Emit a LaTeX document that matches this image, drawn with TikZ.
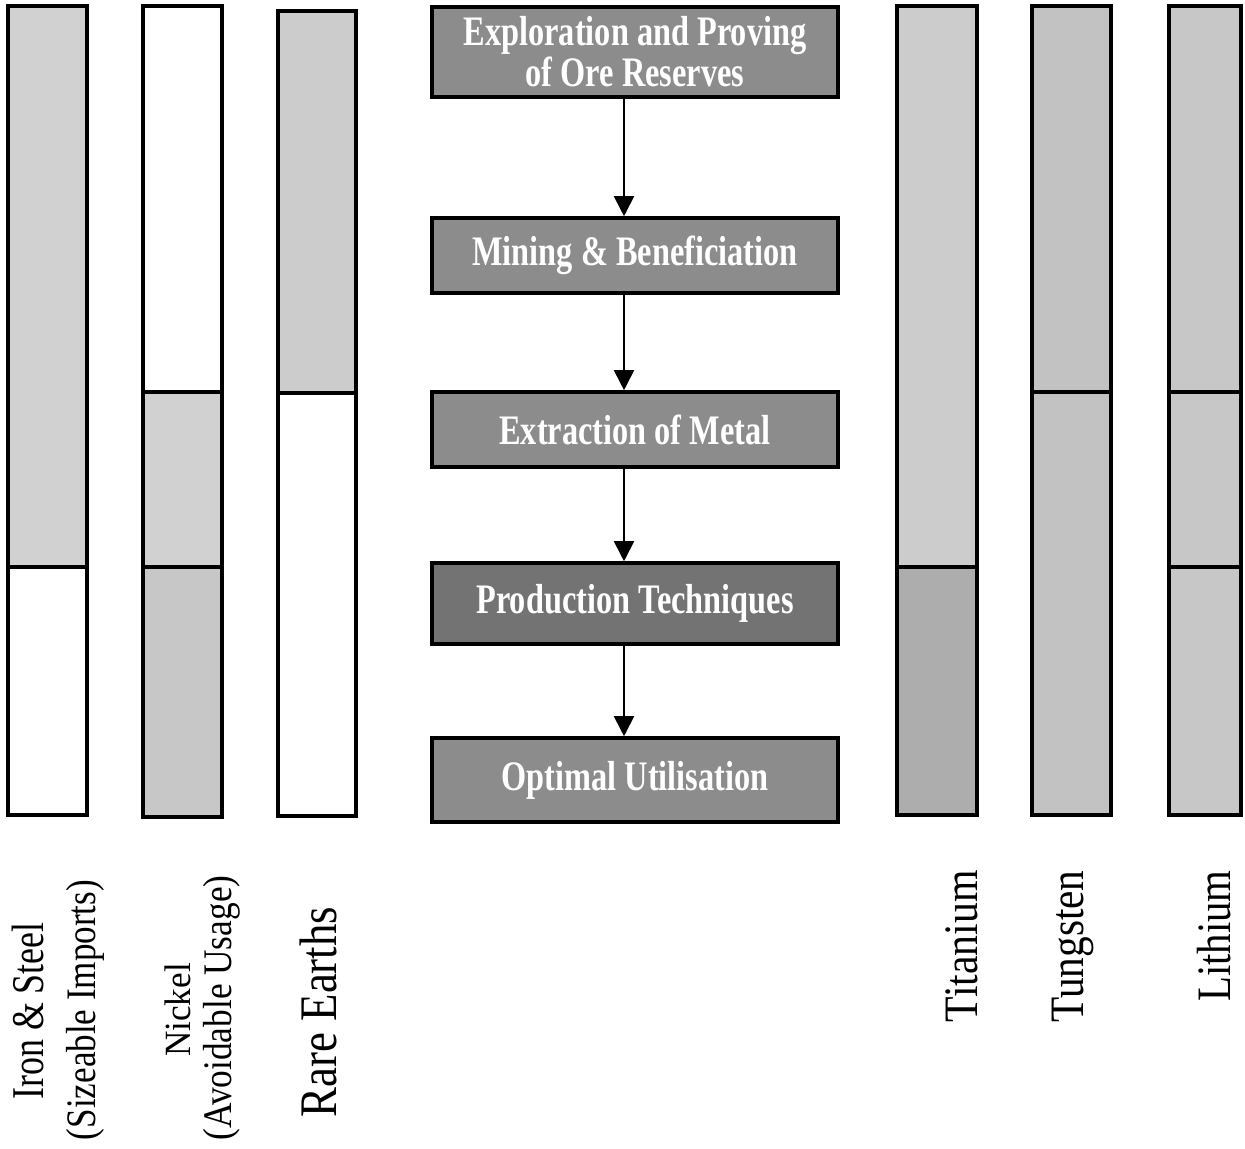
\documentclass[tikz,border=0pt]{standalone}
\usepackage{fontspec}
\setmainfont{Liberation Serif}
\usetikzlibrary{arrows.meta}
% horizontally condensed text
\newcommand{\cond}[2][0.85]{\scalebox{#1}[1]{#2}}
\newcommand{\boxtext}[1]{\scalebox{0.77}[1]{#1}}

\begin{document}
\begin{tikzpicture}[x=0.5pt,y=-0.5pt,
  bar/.style={draw=black, line width=1.7pt},
  flowbox/.style={draw=black, line width=1.8pt, fill=black!45, text=white,
    font=\fontsize{21}{18.5}\selectfont\bfseries, align=center,
    minimum width=203pt, inner sep=0pt},
  flow/.style={line width=0.9pt, -{Triangle[width=10pt,length=10pt]}},
  vlabel/.style={rotate=90, inner sep=0pt, anchor=base},
  rlabel/.style={rotate=90, inner sep=0pt, anchor=base east,
    font=\fontsize{24}{26}\selectfont},
]
\useasboundingbox (0,0) rectangle (1245,1148);

% ---- process chain ----
\node[flowbox, minimum height=45pt]   (b1) at (635,52)
  {\boxtext{Exploration and Proving}\\\boxtext{of Ore Reserves}};
\node[flowbox, minimum height=37.5pt] (b2) at (635,255.5) {\boxtext{Mining \& Beneficiation}};
\node[flowbox, minimum height=37.5pt] (b3) at (635,429.5) {\boxtext{Extraction of Metal}};
\node[flowbox, minimum height=40.5pt, fill=black!55] (b4) at (635,603.5) {\boxtext{Production Techniques}};
\node[flowbox, minimum height=42pt]   (b5) at (635,780) {\boxtext{Optimal Utilisation}};

\foreach \a/\b in {b1/b2, b2/b3, b3/b4, b4/b5}
  \draw[flow] ([xshift=-5.5pt]\a.south) -- ([xshift=-5.5pt]\b.north);

% ---- metal bars, left ----
% Iron & Steel
\fill[black!18] (8,6) rectangle (87,567);
\draw[bar] (8,6) rectangle (87,815);
\draw[bar] (8,567) -- (87,567);
% Nickel
\fill[black!18] (143,392) rectangle (222,567);
\fill[black!22] (143,567) rectangle (222,817);
\draw[bar] (143,6) rectangle (222,817);
\draw[bar] (143,392) -- (222,392);
\draw[bar] (143,567) -- (222,567);
% Rare Earths
\fill[black!20] (278,11) rectangle (356,393);
\draw[bar] (278,11) rectangle (356,816);
\draw[bar] (278,393) -- (356,393);

% ---- metal bars, right ----
% Titanium
\fill[black!20] (897,6) rectangle (977,567);
\fill[black!32] (897,567) rectangle (977,815);
\draw[bar] (897,6) rectangle (977,815);
\draw[bar] (897,567) -- (977,567);
% Tungsten
\fill[black!24] (1032,6) rectangle (1111,815);
\draw[bar] (1032,6) rectangle (1111,815);
\draw[bar] (1032,392) -- (1111,392);
% Lithium
\fill[black!22] (1169,6) rectangle (1241,815);
\draw[bar] (1169,6) rectangle (1241,815);
\draw[bar] (1169,392) -- (1241,392);
\draw[bar] (1169,567) -- (1241,567);

% ---- labels ----
\node[vlabel, font=\fontsize{22.7}{26}\selectfont] (l-iron) at (43,1011) {\cond[0.79]{Iron \& Steel}};
\node[vlabel, font=\fontsize{21}{26}\selectfont] (l-iron2) at (95,1010) {\cond[0.835]{(Sizeable Imports)}};
\node[vlabel, font=\fontsize{18.5}{20}\selectfont] (l-nickel) at (190,1010) {\cond[0.95]{Nickel}};
\node[vlabel, font=\fontsize{20.3}{24}\selectfont] (l-nickel2) at (231,1008) {\cond[0.87]{(Avoidable Usage)}};
\node[vlabel, font=\fontsize{26.4}{30}\selectfont] (l-rare) at (336,1012) {\cond{Rare Earths}};

\node[rlabel] (l-ti) at (977,870)  {\cond[0.87]{Titanium}};
\node[rlabel] (l-w)  at (1083,870) {\cond[0.86]{Tungsten}};
\node[rlabel] (l-li) at (1230,870) {\cond[0.85]{Lithium}};
\end{tikzpicture}
\end{document}
